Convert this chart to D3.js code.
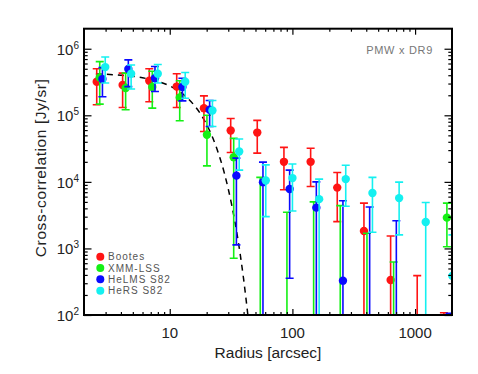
<!DOCTYPE html>
<html>
<head>
<meta charset="utf-8">
<script src="https://cdn.jsdelivr.net/npm/d3@7"></script>
<style>
	body { margin: 0; background: #fff; }
	svg text { font-family: 'Liberation Sans', Arial, sans-serif; }
</style>
</head>
<body>
<div id="chart"></div>
<script>

// radial bins (arcsec), each survey is nudged a little to the right so the bars don't overlap
const radii = [2.54, 4.13, 6.81, 11.4, 19.0, 31.4, 51.7, 85.3, 140.8, 232, 383, 632, 1041, 1718];
const shifts = [1, 1.058, 1.113, 1.173];

const names = ['Bootes', 'XMM-LSS', 'HeLMS S82', 'HeRS S82'];
const colors = ['#ff1414', '#14f014', '#0a0aff', '#14f0f0'];

// null value = no point drawn, null lower bound = bar runs off the bottom
const bootesVal = [3.2e5, 2.85e5, 3.3e5, 2.7e5, 1.28e5, 5.9e4, 5.5e4, 2.0e4, 2.0e4, 8.2e3, 1.83e3, 336, null, null];
const bootesHi = [5.0e5, 4.3e5, 5.0e5, 4.2e5, 1.96e5, 8.95e4, 8.4e4, 3.3e4, 3.2e4, 1.38e4, 4.8e3, 1.54e3, 390, 108];
const bootesLo = [1.44e5, 1.31e5, 1.6e5, 1.31e5, 5.7e4, 2.76e4, 2.7e4, 7.6e3, 8.5e3, 2.53e3, null, null, null, null];

const xmmVal = [3.7e5, 2.57e5, 2.66e5, 1.85e5, 5.1e4, 2.35e4, null, null, null, null, null, null, null, 2.9e3];
const xmmHi = [6.4e5, 4.3e5, 4.6e5, 3.3e5, 1.0e5, 4.5e4, 1.17e4, 3.5e3, 5.0e3, 4.4e3, 1.69e3, 627, null, 4.8e3];
const xmmLo = [1.47e5, 1.21e5, 1.28e5, 8.3e4, 1.74e4, 713, null, null, null, null, null, null, null, 1.06e3];

const helmsVal = [3.5e5, 4.96e5, 3.6e5, 2.66e5, 1.21e5, 1.24e4, 9.9e3, 7.8e3, 4.1e3, 328, null, null, null, null];
const helmsHi = [5.2e5, 6.8e5, 5.4e5, 3.6e5, 1.67e5, 2.27e4, 1.98e4, 1.5e4, 1.0e4, 5.2e3, 4.2e3, 2.6e3, null, 106];
const helmsLo = [1.9e5, 2.7e5, 2.28e5, 1.65e5, 6.8e4, 1130, null, 357, null, null, null, null, null, null];

const hersVal = [5.3e5, 4.2e5, 4.2e5, 3.2e5, 1.18e5, 2.86e4, 1.05e4, 1.14e4, 5.5e3, 1.1e4, 6.8e3, 5.7e3, 2.5e3, 386];
const hersHi = [7.5e5, 5.7e5, 5.8e5, 4.4e5, 1.67e5, 4.4e4, 1.8e4, 1.86e4, 1.1e4, 1.78e4, 1.17e4, 9.9e3, 4.9e3, 1.6e3];
const hersLo = [3.05e5, 2.48e5, 3.05e5, 1.8e5, 6.8e4, 1.5e4, 3.0e3, 3.66e3, null, 4.3e3, 1.75e3, 1.6e3, null, null];

// dashed beam curve
const modelRadius = [2.5, 4, 6, 8, 10, 12, 14, 16, 18, 20, 24, 28, 32, 36, 40, 44];
const modelValue = [4.18e5, 4.0e5, 3.66e5, 3.23e5, 2.76e5, 2.27e5, 1.8e5, 1.38e5, 1.02e5, 7.25e4, 3.3e4, 1.31e4, 4.5e3, 1.35e3, 348, 78];

const xTicks = [10, 100, 1000];
const yTicks = [1e2, 1e3, 1e4, 1e5, 1e6];

const values = [bootesVal, xmmVal, helmsVal, hersVal];
const highs = [bootesHi, xmmHi, helmsHi, hersHi];
const lows = [bootesLo, xmmLo, helmsLo, hersLo];

const series = names.map((name, i) => ({
	name: name,
	color: colors[i],
	points: radii.map((r, j) => ({
		r: r * shifts[i],
		v: values[i][j],
		hi: highs[i][j],
		lo: lows[i][j],
	})),
}));

const W = 478;
const H = 374;
const box = {left: 84, right: 452, top: 28.7, bottom: 315};

const x = d3.scaleLog().domain([2, 2000]).range([box.left, box.right]);
const y = d3.scaleLog().domain([100, 2e6]).range([box.bottom, box.top]);

const minors = (lo, hi) => {
	let out = [];
	for (let p = Math.floor(Math.log10(lo)); p <= Math.ceil(Math.log10(hi)); p++) {
		for (let m = 2; m <= 9; m++) {
			const v = m * Math.pow(10, p);
			if (v > lo && v < hi) out.push(v);
		}
	}
	return out;
};

const svg = d3.select('#chart')
	.append('svg')
	.attr('width', W)
	.attr('height', H);

svg.append('rect')
	.attr('width', W)
	.attr('height', H)
	.attr('fill', '#fff');

svg.append('clipPath')
	.attr('id', 'plotclip')
	.append('rect')
	.attr('x', box.left)
	.attr('y', box.top)
	.attr('width', box.right - box.left)
	.attr('height', box.bottom - box.top);

const plot = svg.append('g').attr('clip-path', 'url(#plotclip)');

// beam model
plot.append('path')
	.datum(modelRadius.map((r, i) => [r, modelValue[i]]))
	.attr('fill', 'none')
	.attr('stroke', '#000')
	.attr('stroke-width', 1.5)
	.attr('stroke-dasharray', '6,5')
	.attr('d', d3.line()
		.x(d => x(d[0]))
		.y(d => y(d[1]))
		.curve(d3.curveMonotoneX));

// error bars + points, one survey after the other
series.forEach(s => {
	const g = plot.append('g');
	const bars = s.points.filter(p => p.hi !== null);

	g.selectAll('line.bar')
		.data(bars)
		.join('line')
		.attr('class', 'bar')
		.attr('x1', p => x(p.r))
		.attr('x2', p => x(p.r))
		.attr('y1', p => y(p.hi))
		.attr('y2', p => p.lo === null ? box.bottom + 5 : y(p.lo))
		.attr('stroke', s.color)
		.attr('stroke-width', 1.6);

	g.selectAll('line.capHi')
		.data(bars)
		.join('line')
		.attr('class', 'capHi')
		.attr('x1', p => x(p.r) - 4)
		.attr('x2', p => x(p.r) + 4)
		.attr('y1', p => y(p.hi))
		.attr('y2', p => y(p.hi))
		.attr('stroke', s.color)
		.attr('stroke-width', 1.6);

	g.selectAll('line.capLo')
		.data(bars.filter(p => p.lo !== null))
		.join('line')
		.attr('class', 'capLo')
		.attr('x1', p => x(p.r) - 4)
		.attr('x2', p => x(p.r) + 4)
		.attr('y1', p => y(p.lo))
		.attr('y2', p => y(p.lo))
		.attr('stroke', s.color)
		.attr('stroke-width', 1.6);

	g.selectAll('circle')
		.data(s.points.filter(p => p.v !== null))
		.join('circle')
		.attr('cx', p => x(p.r))
		.attr('cy', p => y(p.v))
		.attr('r', 4.2)
		.attr('fill', s.color);
});

// axes: ticks point inward on all four sides, IDL style
const axes = svg.append('g');

const tickAxis = (axisFn, scale, vals, size, at) => {
	const a = axes.append('g')
		.attr('transform', at)
		.call(axisFn(scale).tickValues(vals).tickSize(-size).tickFormat(''));
	a.select('.domain').remove();
	a.selectAll('line').attr('stroke', '#000').attr('stroke-width', 1.2);
};

const xMinor = minors(2, 2000);
const yMinor = minors(100, 2e6);

tickAxis(d3.axisBottom, x, xTicks, 6, `translate(0,${box.bottom})`);
tickAxis(d3.axisBottom, x, xMinor, 3, `translate(0,${box.bottom})`);
tickAxis(d3.axisTop, x, xTicks, 6, `translate(0,${box.top})`);
tickAxis(d3.axisTop, x, xMinor, 3, `translate(0,${box.top})`);
tickAxis(d3.axisLeft, y, yTicks, 7.5, `translate(${box.left},0)`);
tickAxis(d3.axisLeft, y, yMinor, 3.7, `translate(${box.left},0)`);
tickAxis(d3.axisRight, y, yTicks, 7.5, `translate(${box.right},0)`);
tickAxis(d3.axisRight, y, yMinor, 3.7, `translate(${box.right},0)`);

axes.append('rect')
	.attr('x', box.left)
	.attr('y', box.top)
	.attr('width', box.right - box.left)
	.attr('height', box.bottom - box.top)
	.attr('fill', 'none')
	.attr('stroke', '#000')
	.attr('stroke-width', 2);

// tick labels
axes.selectAll('text.xlab')
	.data(xTicks)
	.join('text')
	.attr('class', 'xlab')
	.attr('x', d => x(d))
	.attr('y', 338)
	.attr('text-anchor', 'middle')
	.attr('font-size', 15)
	.attr('fill', '#222')
	.text(d3.format('d'));

const ylab = axes.selectAll('text.ylab')
	.data(yTicks)
	.join('text')
	.attr('class', 'ylab')
	.attr('x', 79)
	.attr('y', d => y(d) + 6)
	.attr('text-anchor', 'end')
	.attr('font-size', 15)
	.attr('fill', '#222');

ylab.append('tspan').text('10');
ylab.append('tspan')
	.attr('font-size', 10)
	.attr('dy', -6)
	.text(d => Math.round(Math.log10(d)));

// titles
svg.append('text')
	.attr('x', (box.left + box.right) / 2)
	.attr('y', 358)
	.attr('text-anchor', 'middle')
	.attr('font-size', 15.5)
	.attr('fill', '#222')
	.text('Radius [arcsec]');

svg.append('text')
	.attr('transform', `translate(46,${(box.top + box.bottom) / 2 - 4}) rotate(-90)`)
	.attr('text-anchor', 'middle')
	.attr('font-size', 15.5)
	.attr('letter-spacing', 0.6)
	.attr('fill', '#222')
	.text('Cross-correlation [Jy/sr]');

svg.append('text')
	.attr('x', 433)
	.attr('y', 54)
	.attr('text-anchor', 'end')
	.attr('font-size', 11)
	.attr('letter-spacing', 0.7)
	.attr('fill', '#777')
	.text('PMW x DR9');

// legend
const legend = svg.append('g');
const legendRow = d3.scalePoint().domain(names).range([256.7, 290.7]);

legend.selectAll('circle')
	.data(series)
	.join('circle')
	.attr('cx', 100.3)
	.attr('cy', s => legendRow(s.name))
	.attr('r', 4)
	.attr('fill', s => s.color);

legend.selectAll('text')
	.data(series)
	.join('text')
	.attr('x', 108)
	.attr('y', s => legendRow(s.name))
	.attr('dy', '0.36em')
	.attr('font-size', 10)
	.attr('letter-spacing', 1)
	.attr('fill', '#555')
	.text(s => s.name);

</script>
</body>
</html>
